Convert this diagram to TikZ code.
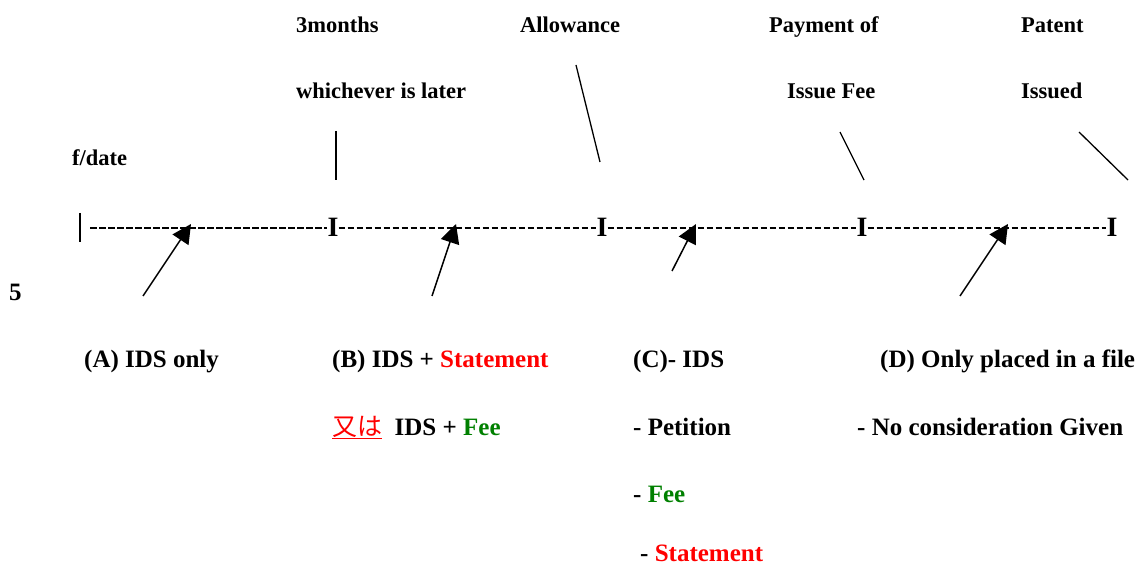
\documentclass[tikz,border=0pt]{standalone}
\usepackage{fontspec}
\setmainfont{Liberation Serif}[BoldFont={Liberation Serif Bold}]
\newfontfamily\jpfont{Noto Sans CJK JP}
\usetikzlibrary{arrows.meta}
\definecolor{stred}{RGB}{255,0,0}
\definecolor{feegreen}{RGB}{0,128,0}
\tikzset{
  toplbl/.style={anchor=base west,inner sep=0pt,font=\fontsize{22.5}{27}\selectfont\bfseries},
  botlbl/.style={anchor=base west,inner sep=0pt,font=\fontsize{25}{30}\selectfont\bfseries},
  tlmark/.style={inner sep=0pt,font=\fontsize{28}{30}\selectfont\bfseries},
  tick/.style={line width=1.3pt},
  pointer/.style={line width=1.5pt,-{Triangle[length=19pt,width=19pt]}},
  timeline/.style={line width=1.5pt,dash pattern=on 6.5pt off 2.5pt},
}
\begin{document}
\begin{tikzpicture}[x=1pt,y=-1pt]
\useasboundingbox (0,0) rectangle (1141,569);
% top labels
\node[toplbl] (t3m) at (296,33) {3months};
\node[toplbl] (twl) at (296,99) {whichever is later};
\node[toplbl] (tal) at (520,33) {Allowance};
\node[toplbl] (tpo) at (769,33) {Payment of};
\node[toplbl] (tif) at (787,99) {Issue Fee};
\node[toplbl] (tpa) at (1021,33) {Patent};
\node[toplbl] (tis) at (1021,99) {Issued};
\node[toplbl] (tfd) at (72,166) {f/date};
\node[botlbl] (five) at (9,301) {5};
% pointer lines from labels to marks
\coordinate (l1a) at (336,131); \coordinate (l1b) at (336,180);
\coordinate (l2a) at (576,65);  \coordinate (l2b) at (600,162);
\coordinate (l3a) at (840,132); \coordinate (l3b) at (864,180);
\coordinate (l4a) at (1079,132); \coordinate (l4b) at (1128,180);
\draw[tick] (l1a) -- (l1b);
\draw[tick] (l2a) -- (l2b);
\draw[tick] (l3a) -- (l3b);
\draw[tick] (l4a) -- (l4b);
% timeline
\coordinate (bartop) at (80,213); \coordinate (barbot) at (80,242);
\draw[line width=1.2pt] (bartop) -- (barbot);
\coordinate (start) at (90,228);
\node[tlmark] (m1) at (333,227) {I};
\node[tlmark] (m2) at (602,227) {I};
\node[tlmark] (m3) at (862,227) {I};
\node[tlmark] (m4) at (1112,227) {I};
\draw[timeline] (start) -- (m1.west |- start);
\draw[timeline] (m1.east |- start) -- (m2.west |- start);
\draw[timeline] (m2.east |- start) -- (m3.west |- start);
\draw[timeline] (m3.east |- start) -- (m4.west |- start);
% arrows
\coordinate (aA) at (143,296); \coordinate (hA) at (191,224);
\coordinate (aB) at (432,296); \coordinate (hB) at (456,224);
\coordinate (aC) at (672,271); \coordinate (hC) at (696,224);
\coordinate (aD) at (960,296); \coordinate (hD) at (1008,224);
\draw[pointer] (aA) -- (hA);
\draw[pointer] (aB) -- (hB);
\draw[pointer] (aC) -- (hC);
\draw[pointer] (aD) -- (hD);
% bottom labels
\node[botlbl] (lA) at (84,368) {(A) IDS only};
\node[botlbl] (lB) at (332,368) {(B) IDS + \textcolor{stred}{Statement}};
\node[botlbl] (lB2) at (332,435) {\textcolor{stred}{\jpfont\mdseries\underline{又は}}\ \ IDS + \textcolor{feegreen}{Fee}};
\node[botlbl] (lC) at (633,368) {(C)- IDS};
\node[botlbl] (lC2) at (633,435) {- Petition};
\node[botlbl] (lC3) at (633,502) {- \textcolor{feegreen}{Fee}};
\node[botlbl] (lC4) at (640,561) {- \textcolor{stred}{Statement}};
\node[botlbl] (lD) at (880,368) {(D) Only placed in a file};
\node[botlbl] (lD2) at (857,435) {- No consideration Given};
\end{tikzpicture}
\end{document}
